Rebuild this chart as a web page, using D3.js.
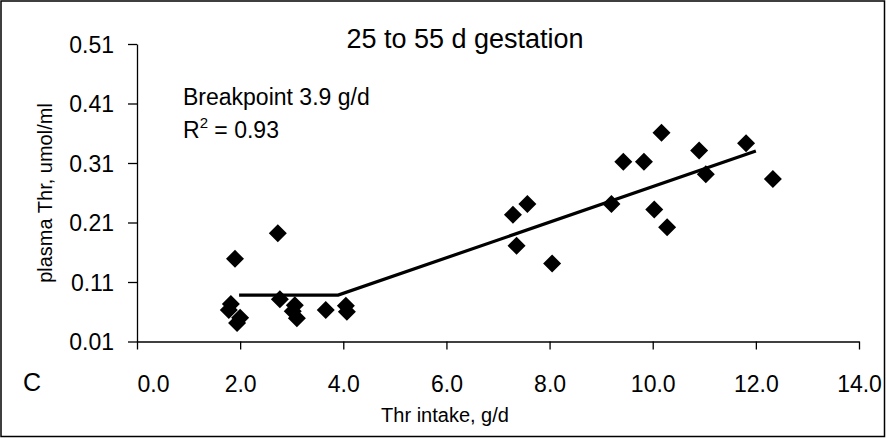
<!DOCTYPE html>
<html><head><meta charset="utf-8">
<script src="https://cdn.jsdelivr.net/npm/d3@7/dist/d3.min.js"></script>
<style>html,body{margin:0;padding:0;background:#fff;}svg{display:block;font-family:"Liberation Sans",Arial,sans-serif;}</style>
</head><body>
<script>
// Data
const intake = [1.90, 1.82, 1.78, 2.00, 1.94, 2.73, 2.77, 3.06, 3.02, 3.10, 3.66, 4.05, 4.07,
                7.29, 7.57, 7.36, 8.05, 9.43, 9.83, 10.17, 10.90, 11.03, 9.20, 10.03, 10.28, 11.81, 12.33];
const plasma = [0.149, 0.073, 0.063, 0.050, 0.041, 0.192, 0.081, 0.071, 0.061, 0.049, 0.063, 0.070, 0.060,
                0.223, 0.241, 0.171, 0.141, 0.312, 0.312, 0.361, 0.331, 0.291, 0.241, 0.232, 0.202, 0.343, 0.283];
const fitX = [1.98, 3.90, 12.0];
const fitY = [0.088, 0.088, 0.330];
const xTicks = [0, 2, 4, 6, 8, 10, 12, 14];
const yTicks = [0.01, 0.11, 0.21, 0.31, 0.41, 0.51];
const title = "25 to 55 d gestation";
const xLabel = "Thr intake, g/d";
const yLabel = "plasma Thr, umol/ml";
const panel = "C";

const W = 886, H = 438;
const svg = d3.select("body").append("svg").attr("width", W).attr("height", H);

svg.append("rect").attr("x", 1).attr("y", 1).attr("width", W - 2.5).attr("height", H - 2.5)
  .attr("fill", "#fff").attr("stroke", "#000").attr("stroke-width", 1.5);

const x = d3.scaleLinear().domain([0, 14]).range([137, 859]);
const y = d3.scaleLinear().domain([0.01, 0.51]).range([341.5, 44]);

const xAxis = svg.append("g").attr("transform", `translate(0,${y(0.01)})`)
  .call(d3.axisBottom(x).tickValues(xTicks).tickFormat(d3.format(".1f")).tickSizeInner(8).tickSizeOuter(0));
const yAxis = svg.append("g").attr("transform", `translate(${x(0)},0)`)
  .call(d3.axisLeft(y).tickValues(yTicks).tickFormat(d3.format(".2f")).tickSizeInner(9).tickSizeOuter(0).tickPadding(14));
[xAxis, yAxis].forEach(g => {
  g.selectAll("path,line").attr("stroke", "#000").attr("stroke-width", 1.3);
  g.selectAll("text").attr("fill", "#000").attr("font-family", "Liberation Sans, Arial, sans-serif").attr("font-size", 23);
});
yAxis.selectAll("text").attr("dy", "0.36em");
xAxis.selectAll("text").attr("y", 50).attr("dy", 0);
// first label clamped to the plot's left edge, as in the reference
xAxis.selectAll(".tick").filter(d => d === 0).select("text").attr("text-anchor", "start");

// fit line
svg.append("path")
  .datum(fitX.map((v, i) => [v, fitY[i]]))
  .attr("d", d3.line().x(d => x(d[0])).y(d => y(d[1])))
  .attr("fill", "none").attr("stroke", "#000").attr("stroke-width", 3.2);

// diamonds
const s = 9;
svg.append("g").selectAll("path").data(intake.map((v, i) => [v, plasma[i]])).join("path")
  .attr("transform", d => `translate(${x(d[0])},${y(d[1])})`)
  .attr("d", `M0,${-s}L${s},0L0,${s}L${-s},0Z`)
  .attr("fill", "#000");

svg.append("text").attr("x", 465).attr("y", 48).attr("text-anchor", "middle")
  .attr("font-size", 27).text(title);

svg.append("text").attr("x", 183).attr("y", 105).attr("font-size", 23).text("Breakpoint 3.9 g/d");
const r2 = svg.append("text").attr("x", 183).attr("y", 138).attr("font-size", 23);
r2.append("tspan").text("R");
r2.append("tspan").attr("dy", -10).attr("font-size", 15).text("2");
r2.append("tspan").attr("dy", 10).text(" = 0.93");

svg.append("text").attr("x", 23).attr("y", 391).attr("font-size", 25).text(panel);
svg.append("text").attr("x", 445).attr("y", 422).attr("text-anchor", "middle").attr("font-size", 20).text(xLabel);
svg.append("text").attr("transform", `translate(52,193) rotate(-90)`).attr("text-anchor", "middle")
  .attr("font-size", 20).text(yLabel);
</script>
</body></html>
